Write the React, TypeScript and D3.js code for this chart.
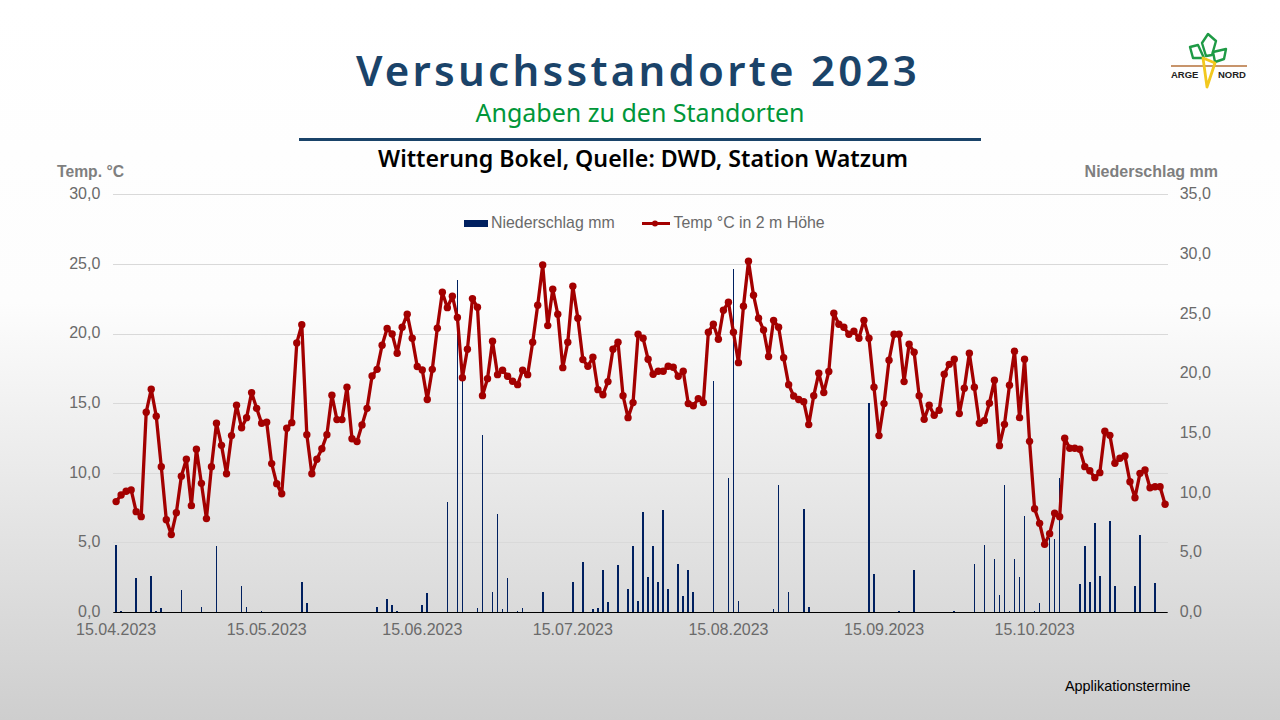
import { useEffect, useRef } from "react";
import * as d3 from "d3";

const tempValues = [
  8.0, 8.48, 8.74, 8.84, 7.28, 6.92, 14.42, 16.07, 14.13, 10.51,
  6.7, 5.63, 7.2, 9.82, 11.04, 7.71, 11.76, 9.31, 6.78, 10.51,
  13.63, 12.04, 10.0, 12.74, 14.92, 13.3, 14.03, 15.83, 14.7, 13.63,
  13.7, 10.73, 9.29, 8.57, 13.27, 13.67, 19.4, 20.7, 12.81, 10.0,
  11.04, 11.8, 12.81, 15.64, 13.89, 13.89, 16.21, 12.52, 12.31, 13.51,
  14.7, 17.03, 17.5, 19.23, 20.43, 20.04, 18.66, 20.52, 21.46, 19.73,
  17.7, 17.46, 15.33, 17.5, 20.45, 23.04, 21.93, 22.75, 21.22, 16.9,
  18.94, 22.58, 21.96, 15.61, 16.83, 19.52, 17.12, 17.44, 17.0, 16.64,
  16.4, 17.44, 17.12, 19.45, 22.1, 25.0, 20.64, 23.25, 21.46, 17.62,
  19.45, 23.47, 21.17, 18.2, 17.72, 18.37, 16.04, 15.68, 16.62, 18.94,
  19.45, 15.61, 14.03, 15.11, 20.02, 19.73, 18.22, 17.15, 17.36, 17.36,
  17.72, 17.65, 17.0, 17.36, 15.04, 14.89, 15.4, 15.11, 20.16, 20.74,
  19.66, 21.74, 22.32, 20.16, 17.98, 22.03, 25.26, 22.82, 21.17, 20.33,
  18.42, 21.02, 20.52, 18.34, 16.4, 15.59, 15.33, 15.18, 13.53, 15.61,
  17.22, 15.83, 17.34, 21.53, 20.74, 20.52, 20.02, 20.24, 19.73, 21.02,
  19.73, 16.21, 12.74, 15.04, 18.15, 20.02, 20.02, 16.62, 19.3, 18.73,
  15.61, 13.91, 14.92, 14.2, 14.56, 17.15, 17.86, 18.22, 14.32, 16.14,
  18.66, 16.21, 13.63, 13.82, 15.06, 16.72, 12.02, 13.55, 16.36, 18.8,
  14.03, 18.22, 12.33, 7.49, 6.44, 4.93, 5.7, 7.16, 6.92, 12.55,
  11.83, 11.83, 11.76, 10.51, 10.22, 9.72, 10.08, 13.05, 12.76, 10.75,
  11.11, 11.28, 9.43, 8.28, 10.03, 10.27, 9.0, 9.07, 9.07, 7.81,
];

const rainValues = [
  5.7, 0.2, 0, 0, 2.9, 0, 0, 3.1, 0.2, 0.4,
  0, 0, 0, 1.9, 0, 0, 0, 0.5, 0, 0,
  5.6, 0, 0, 0, 0, 2.3, 0.5, 0, 0, 0.2,
  0, 0, 0, 0, 0, 0, 0, 2.6, 0.8, 0,
  0, 0, 0, 0, 0, 0, 0, 0, 0, 0,
  0, 0, 0.5, 0, 1.2, 0.7, 0.2, 0, 0, 0,
  0, 0.7, 1.7, 0, 0, 0, 9.3, 0, 27.9, 19.8,
  0, 0, 0.4, 14.9, 0, 1.8, 8.3, 0.3, 2.9, 0,
  0.2, 0.4, 0, 0, 0, 1.8, 0, 0, 0, 0,
  0, 2.6, 0, 4.3, 0, 0.3, 0.4, 3.6, 0.9, 0,
  4.0, 0, 2.0, 5.6, 1.0, 8.5, 3.0, 5.6, 2.6, 8.6,
  2.0, 0, 4.1, 1.4, 3.6, 1.8, 0, 0, 0, 19.4,
  0, 0, 11.3, 28.8, 1.0, 0, 0, 0, 0, 0,
  0, 0.3, 10.7, 0, 1.8, 0, 0, 8.7, 0.5, 0,
  0, 0, 0, 0, 0, 0, 0, 0, 0, 0,
  17.6, 3.3, 0, 0, 0, 0, 0.2, 0, 0, 3.6,
  0, 0, 0, 0, 0, 0, 0, 0.2, 0, 0,
  0, 4.1, 0, 5.7, 0, 4.5, 1.5, 10.7, 0.2, 4.5,
  3.0, 8.1, 0, 0.2, 0.8, 0, 6.3, 6.2, 11.3, 0,
  0, 0, 2.4, 5.6, 2.6, 7.5, 3.1, 0, 7.7, 2.3,
  0, 0, 0, 2.3, 6.5, 0, 0, 2.5, 0, 0,
];

const days = d3.timeDay.range(new Date(2023, 3, 15), new Date(2023, 10, 11));
const dateTicks = [0, 30, 61, 91, 122, 153, 183];
const tempTicks = [0, 5, 10, 15, 20, 25, 30];
const rainTicks = [0, 5, 10, 15, 20, 25, 30, 35];

const sans = "'Liberation Sans', Arial, sans-serif";
const heading = "'Noto Sans', sans-serif";
const gray = "#7f7f7f";
const tickGray = "#6a6a6a";
const navy = "#002060";
const red = "#a30000";

const de = d3.formatLocale({
  decimal: ",",
  thousands: ".",
  grouping: [3],
  currency: ["", " €"],
});
const fmt = de.format(".1f");
const fmtDate = d3.timeFormat("%d.%m.%Y");

const App = () => {
  const svgRef = useRef<SVGSVGElement>(null);

  useEffect(() => {
    if (!svgRef.current) return;
    const svg = d3.select(svgRef.current);
    svg.selectAll(".chart").remove();
    const g = svg.append("g").attr("class", "chart");

    const left = 113.3;
    const right = 1167.7;
    const top = 195.3;
    const bottom = 613;

    // band range tuned so the bars snap to 1px / 2px like the original
    const x = d3
      .scaleBand<number>()
      .domain(d3.range(days.length))
      .range([113.59, 1167.59])
      .paddingInner(0.677)
      .paddingOuter(0.3385);
    const cx = (i: number) => (x(i) as number) + x.bandwidth() / 2;
    const yTemp = d3.scaleLinear().domain([0, 30]).range([bottom, top]);
    const yRain = d3.scaleLinear().domain([0, 35]).range([bottom, top]);

    // grid + left axis
    const axisL = g
      .append("g")
      .attr("transform", `translate(${left},-0.4)`)
      .call(
        d3
          .axisLeft(yTemp)
          .tickValues(tempTicks)
          .tickSize(-(right - left))
          .tickPadding(13)
          .offset(0)
          .tickFormat(d => fmt(d as number))
      );
    axisL.select(".domain").remove();
    axisL
      .selectAll(".tick line")
      .attr("stroke", "#d9d9d9")
      .attr("stroke-width", 1)
      .attr("shape-rendering", "crispEdges");

    const axisR = g
      .append("g")
      .attr("transform", `translate(${right},-0.4)`)
      .call(
        d3
          .axisRight(yRain)
          .tickValues(rainTicks)
          .tickSize(0)
          .tickPadding(12)
          .offset(0)
          .tickFormat(d => fmt(d as number))
      );
    axisR.select(".domain").remove();

    const axisB = g
      .append("g")
      .attr("transform", `translate(0,${bottom})`)
      .call(
        d3
          .axisBottom(d3.scaleLinear().domain([0, days.length - 1]).range([cx(0), cx(days.length - 1)]))
          .tickValues(dateTicks)
          .tickSize(0)
          .tickPadding(11)
          .offset(0)
          .tickFormat(d => fmtDate(days[d as number]))
      );
    axisB.select(".domain").remove();

    g.selectAll(".tick text")
      .attr("font-family", sans)
      .attr("font-size", 16)
      .attr("fill", tickGray);
    axisL.selectAll(".tick text").attr("y", -0.8);
    axisR.selectAll(".tick text").attr("y", -0.8);

    // rain bars
    g.append("g")
      .selectAll("rect")
      .data(rainValues)
      .join("rect")
      .attr("x", (_, i) => x(i) as number)
      .attr("width", x.bandwidth())
      .attr("y", d => yRain(d))
      .attr("height", d => bottom - yRain(d))
      .attr("fill", navy)
      .attr("shape-rendering", "crispEdges");

    g.append("line")
      .attr("x1", left)
      .attr("x2", right)
      .attr("y1", bottom - 0.5)
      .attr("y2", bottom - 0.5)
      .attr("stroke", "#000")
      .attr("stroke-width", 1);

    // temperature
    const line = d3
      .line<number>()
      .x((_, i) => cx(i))
      .y(d => yTemp(d));
    g.append("path")
      .datum(tempValues)
      .attr("fill", "none")
      .attr("stroke", red)
      .attr("stroke-width", 3.3)
      .attr("stroke-linejoin", "round")
      .attr("d", line);
    g.append("g")
      .selectAll("circle")
      .data(tempValues)
      .join("circle")
      .attr("cx", (_, i) => cx(i))
      .attr("cy", d => yTemp(d))
      .attr("r", 3.7)
      .attr("fill", red);

    // legend
    const legend = g.append("g");
    legend
      .append("rect")
      .attr("x", 464)
      .attr("y", 220)
      .attr("width", 24)
      .attr("height", 7)
      .attr("fill", navy);
    legend
      .append("line")
      .attr("x1", 642)
      .attr("x2", 670)
      .attr("y1", 223.5)
      .attr("y2", 223.5)
      .attr("stroke", red)
      .attr("stroke-width", 3);
    legend.append("circle").attr("cx", 655).attr("cy", 223.5).attr("r", 3).attr("fill", red);
    legend
      .selectAll("text")
      .data([
        { t: "Niederschlag mm", x: 491 },
        { t: "Temp °C in 2 m Höhe", x: 673.5 },
      ])
      .join("text")
      .attr("x", d => d.x)
      .attr("y", 228)
      .attr("font-family", sans)
      .attr("font-size", 15.9)
      .attr("fill", tickGray)
      .text(d => d.t);
  }, []);

  return (
    <svg
      ref={svgRef}
      width={1280}
      height={720}
      style={{ position: "absolute", left: 0, top: 0 }}
    >
      <defs>
        <linearGradient id="bg" x1="0" y1="0" x2="0" y2="1">
          <stop offset="0" stopColor="#ffffff" />
          <stop offset="0.42" stopColor="#fdfdfd" />
          <stop offset="1" stopColor="#cecece" />
        </linearGradient>
      </defs>
      <rect width={1280} height={720} fill="url(#bg)" />

      <text x={638} y={86} textAnchor="middle" fontFamily={heading} fontWeight={600} fontSize={42} letterSpacing={3.25} fill="#1a4369">
        Versuchsstandorte 2023
      </text>
      <text x={640} y={122} textAnchor="middle" fontFamily={heading} fontSize={25} fill="#009639">
        Angaben zu den Standorten
      </text>
      <rect x={299} y={138} width={682} height={3} fill="#1a4369" />
      <text x={643} y={167} textAnchor="middle" fontFamily={heading} fontWeight={600} fontSize={23.2} fill="#000">
        Witterung Bokel, Quelle: DWD, Station Watzum
      </text>

      <text x={57} y={177} fontFamily={sans} fontWeight={700} fontSize={15.7} fill={gray}>
        Temp. °C
      </text>
      <text x={1218} y={177} textAnchor="end" fontFamily={sans} fontWeight={700} fontSize={16} fill={gray}>
        Niederschlag mm
      </text>
      <text x={1065} y={691} fontFamily={sans} fontSize={14.4} fill="#000">
        Applikationstermine
      </text>

      {/* logo */}
      <g fill="none" strokeLinejoin="round">
        <line x1={1171} y1={66} x2={1247} y2={66} stroke="#b5713a" strokeWidth={1.5} />
        <path d="M1202 43 L1208 34 L1216 41 L1212 55 L1206 56 Z" stroke="#1e9a45" strokeWidth={2.4} />
        <path d="M1190 47 L1198 45 L1204 58 L1193 58 Z" stroke="#1e9a45" strokeWidth={2.4} />
        <path d="M1213 52 L1226 49 L1224 59 L1215 62 Z" stroke="#1e9a45" strokeWidth={2.4} />
        <path d="M1203 58 L1215 63 L1207 87 Z" stroke="#f2c81e" strokeWidth={2.8} />
        <text x={1171} y={78} fontFamily={sans} fontWeight={700} fontSize={9.5} fill="#222">ARGE</text>
        <text x={1218} y={78} fontFamily={sans} fontWeight={700} fontSize={9.5} fill="#222">NORD</text>
      </g>
    </svg>
  );
};

export default App;
